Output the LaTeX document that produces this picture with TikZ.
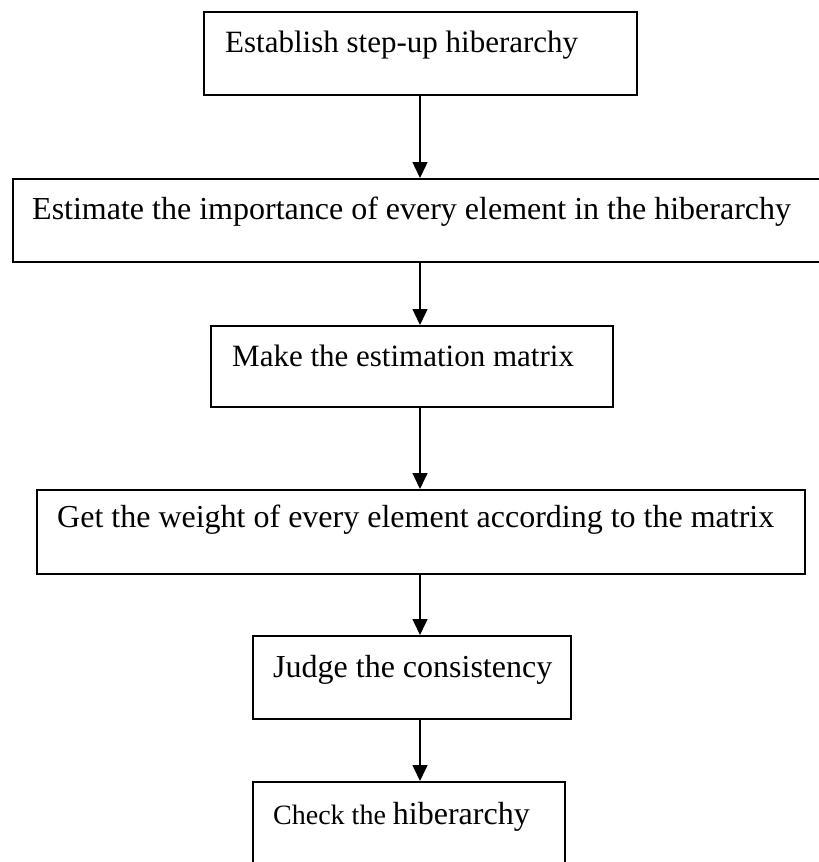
\documentclass[tikz,border=0pt]{standalone}
\usepackage{fontspec}
\setmainfont{Liberation Serif}
\usetikzlibrary{arrows.meta,calc}
\begin{document}
\begin{tikzpicture}[x=1pt,y=-1pt,
  stepbox/.style={draw=black,line width=1.5pt,rectangle,inner sep=0pt,anchor=north west},
  lbl/.style={inner sep=0pt,anchor=base west,font=\fontsize{32}{38}\selectfont},
  lblsmall/.style={lbl,font=\fontsize{31}{37}\selectfont},
  arr/.style={draw=black,line width=1.5pt,-{Triangle[width=15pt,length=16pt]}}]
\useasboundingbox (0,0) rectangle (819,862);
\clip (0,0) rectangle (819,862);
% boxes of the flow, top to bottom
\node[stepbox,minimum width=433pt,minimum height=83pt] (b1) at (203,11) {};
\node[stepbox,minimum width=818pt,minimum height=83pt] (b2) at (12,178) {};
\node[stepbox,minimum width=402pt,minimum height=81pt] (b3) at (210,325) {};
\node[stepbox,minimum width=768pt,minimum height=84pt] (b4) at (36,489) {};
\node[stepbox,minimum width=318pt,minimum height=83pt] (b5) at (252,635) {};
\node[stepbox,minimum width=312pt,minimum height=85pt] (b6) at (252,781) {};
% captions
\node[lblsmall] (t1) at ($(b1.north west)+(22,41)$) {Establish step-up hiberarchy};
\node[lbl] (t2) at ($(b2.north west)+(20,41)$) {Estimate the importance of every element in the hiberarchy};
\node[lblsmall] (t3) at ($(b3.north west)+(22,41)$) {Make the estimation matrix};
\node[lbl] (t4) at ($(b4.north west)+(21,38)$) {Get the weight of every element according to the matrix};
\node[lbl] (t5) at ($(b5.north west)+(21,42)$) {Judge the consistency};
\node[lbl] (t6) at ($(b6.north west)+(21,43)$) {{\fontsize{28}{34}\selectfont Check the }hiberarchy};
% arrows along one vertical axis
\coordinate (ax) at (420,0);
\draw[arr] (b1.south -| ax) -- (b2.north -| ax);
\draw[arr] (b2.south -| ax) -- (b3.north -| ax);
\draw[arr] (b3.south -| ax) -- (b4.north -| ax);
\draw[arr] (b4.south -| ax) -- (b5.north -| ax);
\draw[arr] (b5.south -| ax) -- (b6.north -| ax);
\end{tikzpicture}
\end{document}
